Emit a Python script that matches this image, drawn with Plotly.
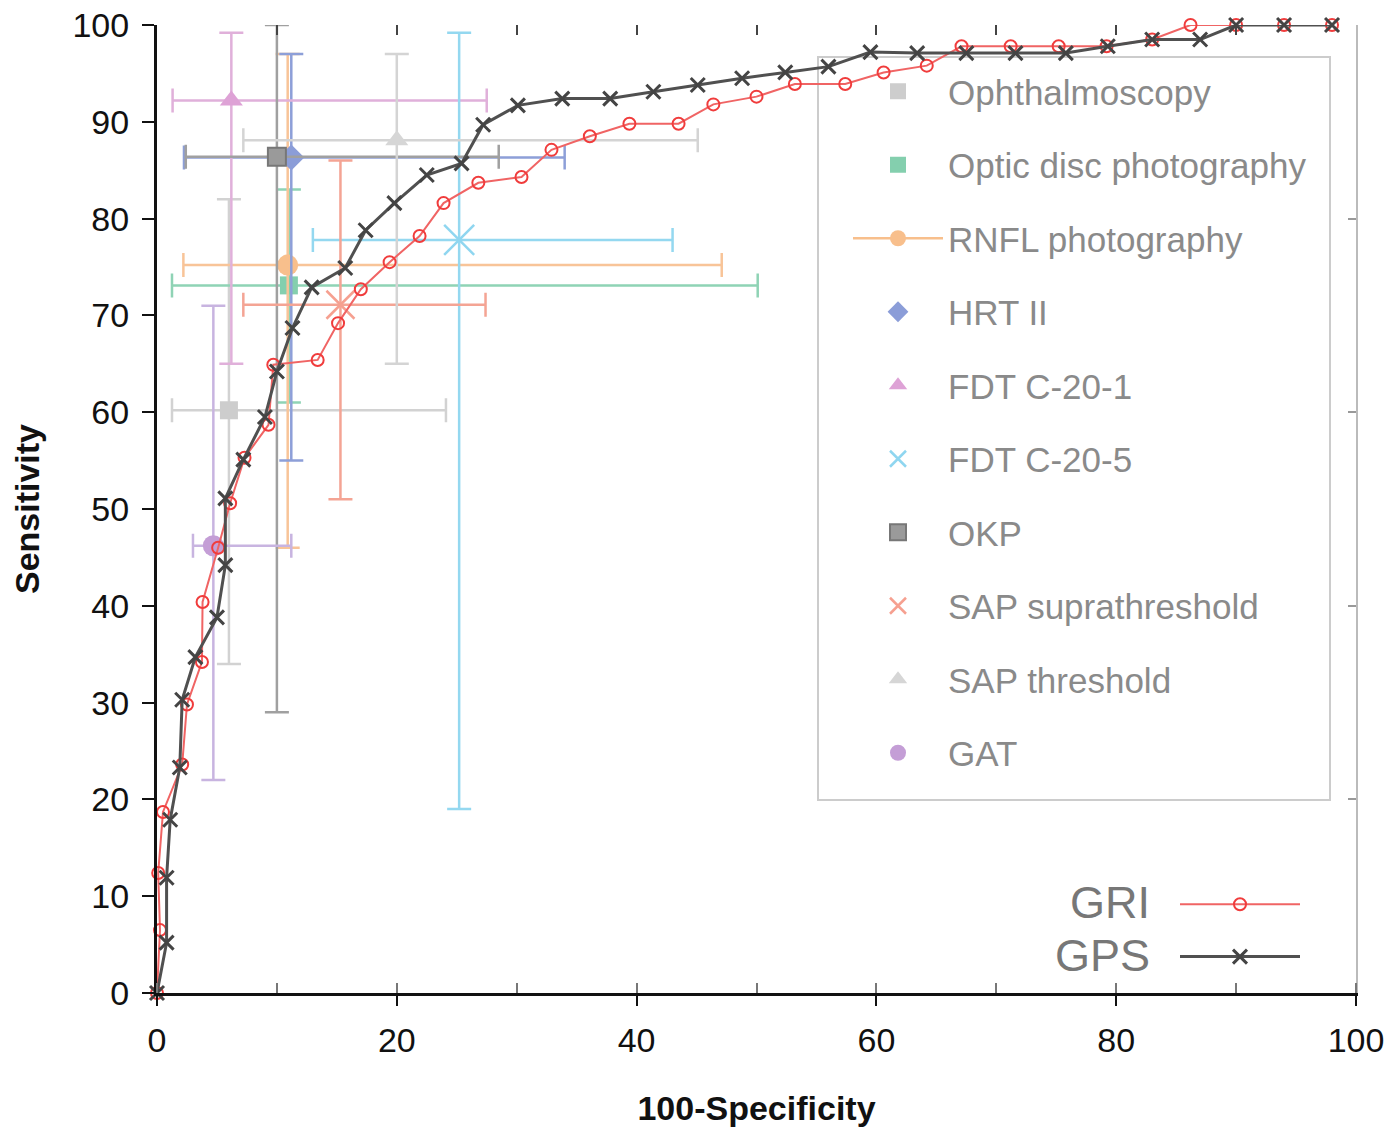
import plotly.graph_objects as go

# ---------------- data ----------------
gri_x = [0, 0.25, 0.1, 0.5, 2.1, 2.5, 3.75, 3.8, 5.1, 6.1, 7.3, 9.3, 9.7, 13.4, 15.1, 17.0, 19.4,
         21.9, 23.9, 26.8, 30.4, 32.9, 36.1, 39.4, 43.5, 46.4, 50.0, 53.2, 57.4, 60.6, 64.2,
         67.1, 71.2, 75.2, 79.2, 83.0, 86.2, 90.0, 94.0, 98.0]
gri_y = [0, 6.5, 12.4, 18.7, 23.6, 29.8, 34.2, 40.4, 46.0, 50.6, 55.3, 58.7, 64.9, 65.4, 69.2,
         72.7, 75.5, 78.2, 81.6, 83.7, 84.3, 87.1, 88.5, 89.8, 89.8, 91.8, 92.6, 93.9, 93.9,
         95.1, 95.8, 97.8, 97.8, 97.8, 97.8, 98.5, 100, 100, 100, 100]

gps_x = [0, 0.8, 0.8, 1.1, 1.9, 2.1, 3.2, 5.0, 5.7, 5.7, 7.2, 9.0, 10.0, 11.3, 12.9, 15.7, 17.4,
         19.8, 22.5, 25.4, 27.2, 30.1, 33.8, 37.8, 41.4, 45.1, 48.8, 52.4, 56.0, 59.5, 63.4,
         67.5, 71.6, 75.8, 79.3, 83.0, 87.0, 90.0, 94.0, 98.0]
gps_y = [0, 5.2, 11.9, 17.9, 23.3, 30.3, 34.7, 38.8, 44.2, 51.1, 55.1, 59.5, 64.2, 68.7, 72.9,
         74.9, 78.8, 81.6, 84.5, 85.7, 89.7, 91.7, 92.4, 92.4, 93.1, 93.8, 94.5, 95.1, 95.7,
         97.2, 97.1, 97.1, 97.1, 97.1, 97.8, 98.5, 98.5, 100, 100, 100]

methods = ["Ophthalmoscopy", "Optic disc photography", "RNFL photography", "HRT II",
           "FDT C-20-1", "FDT C-20-5", "OKP", "SAP suprathreshold", "SAP threshold", "GAT"]
spec_x = [6.0, 11.0, 10.9, 11.2, 6.2, 25.2, 10.0, 15.3, 20.0, 4.7]
sens_y = [60.2, 73.1, 75.2, 86.3, 92.2, 77.8, 86.4, 71.1, 88.1, 46.2]
spec_lo = [1.25, 1.25, 2.2, 2.25, 1.3, 13.0, 2.4, 7.2, 7.2, 3.0]
spec_hi = [24.1, 50.1, 47.1, 34.0, 27.5, 43.0, 28.5, 27.4, 45.1, 11.2]
sens_lo = [34, 61, 46, 55, 65, 19, 29, 51, 65, 22]
sens_hi = [82, 83, 97, 97, 99.2, 99.2, 100, 86, 97, 71]

x_ticks = [0, 20, 40, 60, 80, 100]
y_ticks = [0, 10, 20, 30, 40, 50, 60, 70, 80, 90, 100]

# ---------------- styles ----------------
styles = [
    dict(symbol="square", color="#cdcdcd", size=18, err="#d2d2d2"),
    dict(symbol="square", color="#84cfae", size=18, err="#8fd3b5"),
    dict(symbol="circle", color="#f8bf8c", size=21, err="#f8c498"),
    dict(symbol="diamond", color="#8b9dd8", size=20, err="#8d9fd8"),
    dict(symbol="triangle-up", color="#dea2d6", size=20, err="#e0b0da"),
    dict(symbol="x-thin-open", color="#8fd6f0", size=30, err="#94d8f0"),
    dict(symbol="square", color="#9a9a9a", size=18, err="#a0a0a0"),
    dict(symbol="x-thin-open", color="#f6a090", size=28, err="#f4a494"),
    dict(symbol="triangle-up", color="#d6d6d6", size=20, err="#d4d4d4"),
    dict(symbol="circle", color="#c49ed6", size=21, err="#c8b4e0"),
]

FONT = "Liberation Sans, Arial, sans-serif"

fig = go.Figure()

for i, name in enumerate(methods):
    st = styles[i]
    marker = dict(symbol=st["symbol"], color=st["color"], size=st["size"])
    if st["symbol"].startswith("x-thin"):
        marker["line"] = dict(color=st["color"], width=2.5)
    elif name == "OKP":
        marker["line"] = dict(color="#777777", width=2)
    else:
        marker["line"] = dict(width=0)
    fig.add_trace(go.Scatter(
        x=[spec_x[i]], y=[sens_y[i]], name=name,
        mode="lines+markers" if name == "RNFL photography" else "markers",
        line=dict(color=st["color"], width=2.5),
        marker=marker,
        error_x=dict(type="data", symmetric=False,
                     array=[spec_hi[i] - spec_x[i]], arrayminus=[spec_x[i] - spec_lo[i]],
                     color=st["err"], thickness=2.5, width=12),
        error_y=dict(type="data", symmetric=False,
                     array=[sens_hi[i] - sens_y[i]], arrayminus=[sens_y[i] - sens_lo[i]],
                     color=st["err"], thickness=2.5, width=12),
        legendgroup=name, legend="legend", cliponaxis=False,
    ))

fig.add_trace(go.Scatter(
    x=gri_x, y=gri_y, name=" ", mode="lines+markers",
    line=dict(color="#f06464", width=2),
    marker=dict(symbol="circle-open", size=12, color="#f03c3c", line=dict(width=2)),
    legend="legend2", legendgroup="gri", cliponaxis=False,
))
fig.add_trace(go.Scatter(
    x=gps_x, y=gps_y, name=" ", mode="lines+markers",
    line=dict(color="#505050", width=3),
    marker=dict(symbol="x-thin-open", size=14, color="#444444", line=dict(width=3, color="#444444")),
    legend="legend2", legendgroup="gps", cliponaxis=False,
))

# helper empty traces so that mirrored axes are drawn
fig.add_trace(go.Scatter(x=[], y=[], xaxis="x2", yaxis="y", showlegend=False))
fig.add_trace(go.Scatter(x=[], y=[], xaxis="x", yaxis="y2", showlegend=False))

W, H = 1389, 1127
L, T = 157, 25
pw, ph = 1199, 968
R = W - L - pw
B = H - T - ph

def px_x(p):
    return (p - L) / pw

def px_y(p):
    return (T + ph - p) / ph

fig.update_layout(
    width=W, height=H,
    margin=dict(l=L, r=R, t=T, b=B, autoexpand=False),
    paper_bgcolor="white", plot_bgcolor="white",
    font=dict(family=FONT, color="#111111"),
    xaxis=dict(range=[0, 100], tickvals=x_ticks, ticks="outside", ticklen=10, tickwidth=2,
               tickcolor="#111111", showline=True, linewidth=3, linecolor="#111111",
               showgrid=False, zeroline=False, tickfont=dict(size=34, family=FONT, color="#111111"),
               ticklabelstandoff=5, ticklabeloverflow="allow",
               minor=dict(dtick=10, ticks="inside", ticklen=10, tickwidth=2, tickcolor="#777777"),
               title=dict(text="<b>100-Specificity</b>", font=dict(size=34, family=FONT, color="#111111"),
                          standoff=41)),
    yaxis=dict(range=[0, 100], tickvals=y_ticks, ticks="outside", ticklen=12, tickwidth=2,
               tickcolor="#111111", showline=True, linewidth=3, linecolor="#111111",
               showgrid=False, zeroline=False, tickfont=dict(size=34, family=FONT, color="#111111"),
               ticklabelstandoff=6, ticklabeloverflow="allow",
               title=dict(text="<b>Sensitivity</b>", font=dict(size=34, family=FONT, color="#111111"),
                          standoff=23)),
    xaxis2=dict(overlaying="x", side="top", range=[0, 100], tickvals=[10, 20, 30, 40, 50, 60, 70, 80, 90],
                ticks="inside", ticklen=10, tickwidth=2, tickcolor="#444444",
                showticklabels=False, showline=False, showgrid=False, zeroline=False),
    yaxis2=dict(overlaying="y", side="right", range=[0, 100], tickvals=[20, 40, 60, 80],
                ticks="inside", ticklen=8, tickwidth=2, tickcolor="#999999",
                showticklabels=False, showline=True, linewidth=1.5, linecolor="#bbbbbb",
                showgrid=False, zeroline=False),
    legend=dict(x=px_x(848), y=px_y(62), xanchor="left", yanchor="top",
                bgcolor="rgba(0,0,0,0)", borderwidth=0,
                font=dict(size=35, family=FONT, color="#8a8a8a"),
                itemwidth=90, tracegroupgap=25, itemclick=False),
    legend2=dict(x=px_x(1175), y=px_y(873), xanchor="left", yanchor="top",
                 bgcolor="rgba(0,0,0,0)", borderwidth=0,
                 font=dict(size=38, family=FONT, color="#777777"),
                 itemwidth=120, tracegroupgap=0, itemclick=False),
    shapes=[dict(type="rect", xref="paper", yref="paper",
                 x0=px_x(818), x1=px_x(1330), y0=px_y(800), y1=px_y(57),
                 line=dict(color="#cccccc", width=2), fillcolor="rgba(0,0,0,0)", layer="below")],
    annotations=[
        dict(text="GRI", xref="paper", yref="paper", x=px_x(1152), y=px_y(902),
             xanchor="right", yanchor="middle", showarrow=False,
             font=dict(size=45, family=FONT, color="#777777")),
        dict(text="GPS", xref="paper", yref="paper", x=px_x(1152), y=px_y(955),
             xanchor="right", yanchor="middle", showarrow=False,
             font=dict(size=45, family=FONT, color="#777777")),
    ],
)

# remove the default 8px page margin so the figure fills the window exactly
fig.write_html("out.html",
               config={"displayModeBar": False},
               post_script="document.body.style.margin='0';document.body.style.overflow='hidden';")
